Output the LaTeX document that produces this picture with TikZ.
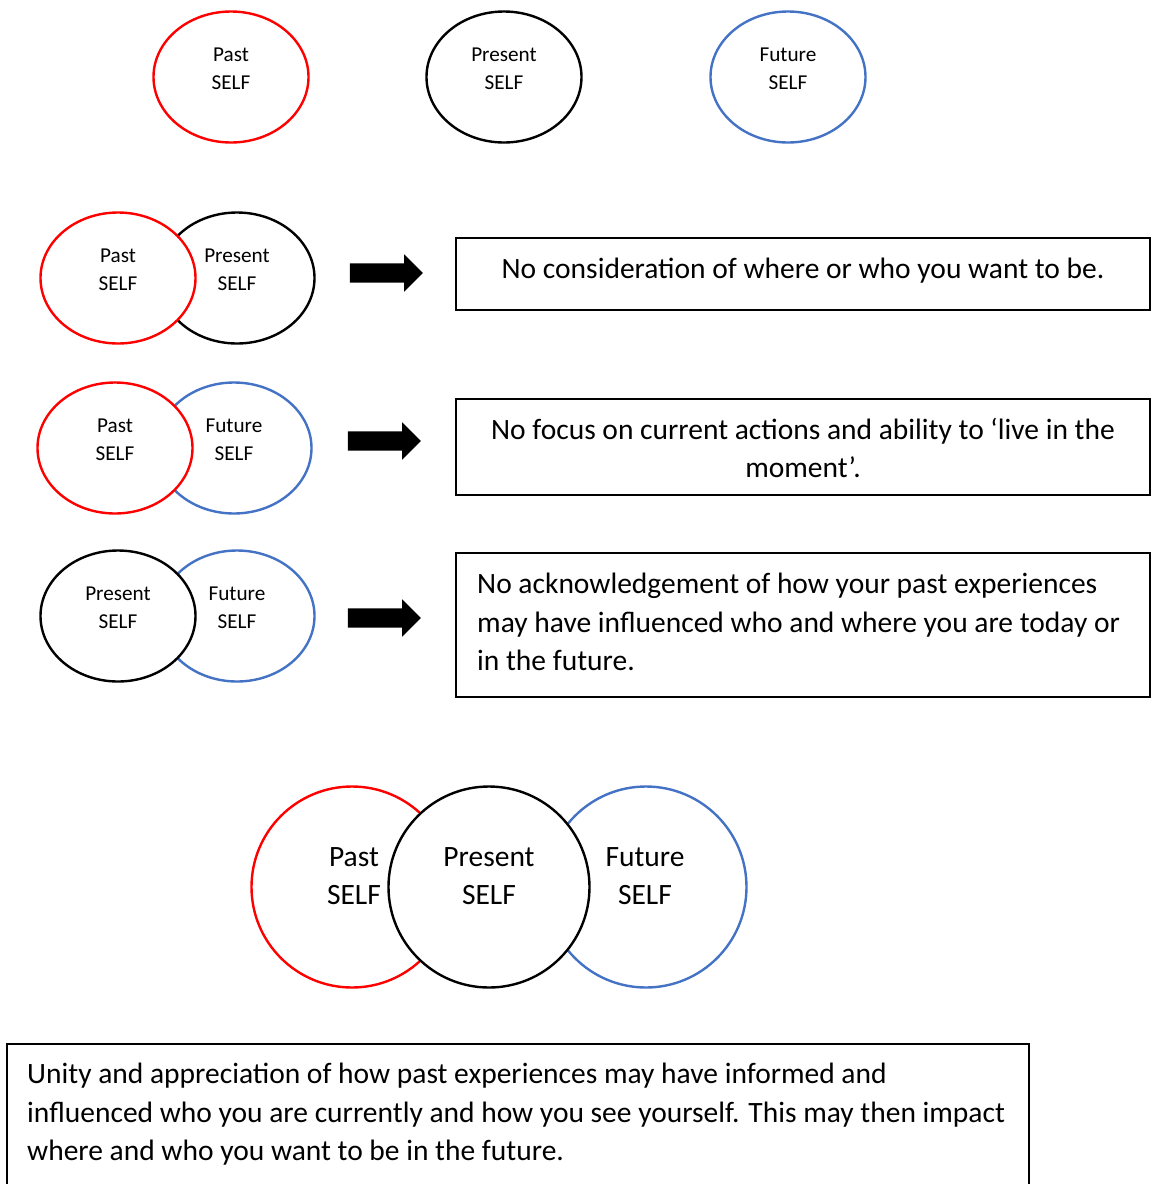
\documentclass[tikz,border=0pt]{standalone}
\usepackage{fontspec}
\setmainfont{Carlito}
\usetikzlibrary{shapes.geometric,shapes.arrows,calc}
\definecolor{pastred}{RGB}{255,0,0}
\definecolor{futureblue}{RGB}{68,114,196}

\begin{document}
\begin{tikzpicture}[x=1pt,y=-1pt,
  selfring/.style={ellipse, draw, line width=2.4pt, fill=white,
    minimum width=155pt, minimum height=131pt, inner sep=0pt},
  bigring/.style={circle, draw, line width=2.4pt, fill=white,
    minimum size=201pt, inner sep=0pt},
  pastc/.style={draw=pastred},
  presc/.style={draw=black},
  futc/.style={draw=futureblue},
  smalltext/.style={align=center, inner sep=0pt,
    font=\fontsize{21.2}{28}\selectfont},
  bigtext/.style={align=center, inner sep=0pt,
    font=\fontsize{29.5}{38}\selectfont},
  textbox/.style={rectangle, draw, line width=1.6pt, inner sep=0pt},
  boxtext/.style={inner sep=0pt, font=\fontsize{29.5}{38.5}\selectfont},
  blockarrow/.style={single arrow, fill=black, inner sep=0pt,
    text height=19pt, text depth=0pt, text width=0pt,
    single arrow head extend=9pt, minimum height=73pt},
]
\useasboundingbox (0,0) rectangle (1151,1184);
\clip (0,0) rectangle (1151,1184);

% --- three separate selves ---
\node[selfring, pastc] (tpast) at (231,77) {};
\node[selfring, presc] (tpres) at (504,77) {};
\node[selfring, futc]  (tfut)  at (788,77) {};
\node[smalltext] (tpastt) at ($(tpast)+(0,-8)$) {Past\\SELF};
\node[smalltext] (tprest) at ($(tpres)+(0,-8)$) {Present\\SELF};
\node[smalltext] (tfutt)  at ($(tfut)+(0,-8)$)  {Future\\SELF};

% --- past + present ---
\node[selfring, presc] (apres) at (237,278) {};
\node[selfring, pastc] (apast) at (118,278) {};
\node[smalltext] (apastt) at ($(apast)+(0,-8)$) {Past\\SELF};
\node[smalltext] (aprest) at ($(apres)+(0,-8)$) {Present\\SELF};

% --- past + future ---
\node[selfring, futc]  (bfut)  at (234,448) {};
\node[selfring, pastc] (bpast) at (115,448) {};
\node[smalltext] (bpastt) at ($(bpast)+(0,-8)$) {Past\\SELF};
\node[smalltext] (bfutt)  at ($(bfut)+(0,-8)$)  {Future\\SELF};

% --- present + future ---
\node[selfring, futc]  (cfut)  at (237,616) {};
\node[selfring, presc] (cpres) at (118,616) {};
\node[smalltext] (cprest) at ($(cpres)+(0,-8)$) {Present\\SELF};
\node[smalltext] (cfutt)  at ($(cfut)+(0,-8)$)  {Future\\SELF};

% --- arrows ---
\node[blockarrow] (arrA) at (381.5,273) {};
\node[blockarrow] (arrB) at (379.5,441) {};
\node[blockarrow] (arrC) at (379.5,618) {};

% --- explanation boxes ---
\node[textbox, minimum width=694pt, minimum height=72pt] (boxA) at (803,274) {};
\node[boxtext] (boxAt) at (803,271) {No consideration of where or who you want to be.};

\node[textbox, minimum width=694pt, minimum height=96pt] (boxB) at (803,447) {};
\node[boxtext, align=center] (boxBt) at (803,448)
  {No focus on current actions and ability to ‘live in the\\moment’.};

\node[textbox, minimum width=694pt, minimum height=144pt] (boxC) at (803,625) {};
\node[boxtext, align=left, anchor=west] (boxCt) at (477,622)
  {No acknowledgement of how your past experiences\\
   may have influenced who and where you are today or\\
   in the future.};

% --- all three selves together ---
\node[bigring, pastc] (dpast) at (352,887) {};
\node[bigring, futc]  (dfut)  at (646,887) {};
\node[bigring, presc] (dpres) at (489,887) {};
\node[bigtext] (dpastt) at ($(dpast)+(2,-11)$) {Past\\SELF};
\node[bigtext] (dprest) at ($(dpres)+(0,-11)$) {Present\\SELF};
\node[bigtext] (dfutt)  at ($(dfut)+(-1,-11)$) {Future\\SELF};

% --- closing box ---
\node[textbox, minimum width=1022pt, minimum height=160pt] (boxD) at (518,1124) {};
\node[boxtext, align=left, anchor=west] (boxDt) at (27,1114.5)
  {Unity and appreciation of how past experiences may have informed and\\
   influenced who you are currently and how you see yourself. This may then impact\\
   where and who you want to be in the future.};
\end{tikzpicture}
\end{document}
